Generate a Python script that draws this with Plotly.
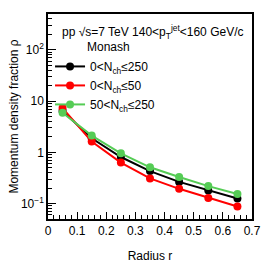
import plotly.graph_objects as go
import numpy as np

radius = [0.05, 0.15, 0.25, 0.35, 0.45, 0.55, 0.65]
rho_all = [6.4, 1.88, 0.81, 0.43, 0.265, 0.18, 0.126]
rho_low = [7.3, 1.62, 0.63, 0.31, 0.194, 0.129, 0.0875]
rho_high = [5.9, 2.12, 0.955, 0.51, 0.33, 0.219, 0.154]

names = ["0&lt;N<sub>ch</sub>≤250", "0&lt;N<sub>ch</sub>≤50", "50&lt;N<sub>ch</sub>≤250"]
colors = ["#000000", "#ff0000", "#55cc55"]
series = [rho_all, rho_low, rho_high]

y_tickvals = [0.1, 1, 10, 100]
y_ticktext = ["10<sup>−1</sup>", "1", "10", "10<sup>2</sup>"]
x_tickvals = [0, 0.1, 0.2, 0.3, 0.4, 0.5, 0.6, 0.7]
x_ticktext = ["0", "0.1", "0.2", "0.3", "0.4", "0.5", "0.6", "0.7"]

FONT = "Liberation Sans, Arial, sans-serif"

fig = go.Figure()
for i in range(3):
    fig.add_trace(go.Scatter(
        x=radius, y=series[i], mode="lines+markers", name=names[i],
        line=dict(color=colors[i], width=2),
        marker=dict(color=colors[i], size=8),
    ))

y_minor = [m * 10.0 ** e for e in range(-2, 3) for m in range(2, 10)]
y_minor = [v for v in y_minor if 0.05 <= v <= 500]
x_minor = [round(v, 2) for v in np.arange(0, 0.7001, 0.02)]

fig.update_layout(
    width=273, height=273,
    margin=dict(l=48, r=15, t=14, b=51),
    plot_bgcolor="white", paper_bgcolor="white",
    font=dict(family=FONT, size=12, color="black"),
    showlegend=True,
    legend=dict(x=0.01, y=0.815, xanchor="left", yanchor="top",
                bgcolor="rgba(0,0,0,0)", font=dict(size=12),
                itemwidth=30, tracegroupgap=0),
    xaxis=dict(range=[0, 0.7], tickvals=x_tickvals, ticktext=x_ticktext,
               ticks="inside", ticklen=7, tickwidth=1.2, tickcolor="black",
               showline=True, linecolor="black", linewidth=1.5, mirror=True,
               showgrid=False, zeroline=False,
               minor=dict(tickmode="array", tickvals=x_minor, ticks="inside",
                          ticklen=4, tickwidth=1, tickcolor="black", showgrid=False),
               title=dict(text="Radius r", font=dict(size=12), standoff=14)),
    yaxis=dict(type="log", range=[np.log10(0.05), np.log10(500)],
               tickvals=y_tickvals, ticktext=y_ticktext,
               ticks="inside", ticklen=8, tickwidth=1.2, tickcolor="black",
               showline=True, linecolor="black", linewidth=1.5, mirror=True,
               showgrid=False, zeroline=False,
               minor=dict(tickmode="array", tickvals=y_minor, ticks="inside",
                          ticklen=4, tickwidth=1, tickcolor="black", showgrid=False),
               title=dict(text="Momentum density fraction ρ", font=dict(size=12), standoff=0)),
)

fig.add_annotation(xref="paper", yref="paper", x=0.06, y=0.913, xanchor="left", yanchor="middle",
                   text="pp √s=7 TeV 140&lt;p<sub>T</sub><sup>jet</sup>&lt;160 GeV/c",
                   showarrow=False, font=dict(size=12))
fig.add_annotation(xref="paper", yref="paper", x=0.18, y=0.841, xanchor="left", yanchor="middle",
                   text="Monash", showarrow=False, font=dict(size=12))

fig.write_html("out.html")
